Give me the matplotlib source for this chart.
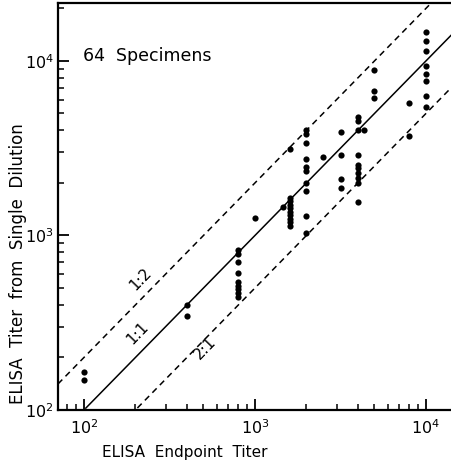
import numpy as np
import matplotlib.pyplot as plt

# endpoint titer (x) and titer from single dilution (y), one entry per specimen
endpoint_titer = (
    [100] * 2
    + [400] * 2
    + [800] * 9
    + [1000]
    + [1450]
    + [1600] * 10
    + [2000] * 10
    + [2500]
    + [3200] * 4
    + [4000] * 10
    + [4335]
    + [5000] * 3
    + [8000] * 2
    + [10000] * 8
)
single_dilution_titer = [
    166, 148,
    401, 347,
    826, 783, 702, 607, 541, 516, 492, 468, 446,
    1255,
    1456,
    3131, 1640, 1566, 1495, 1428, 1363, 1302, 1243, 1187, 1134,
    4010, 3816, 3376, 2743, 2460, 2352, 2007, 1799, 1293, 1030,
    2806,
    3935, 2893, 2099, 1865,
    4795, 4500, 4025, 2893, 2535, 2427, 2273, 2127, 1991, 1563,
    4010,
    8880, 6690, 6140,
    5750, 3730,
    14720, 13070, 11410, 9400, 8425, 7680, 6330, 5450,
]

# reference lines: ratio of single dilution titer to endpoint titer
line_labels = ['1:2', '1:1', '2:1']
line_ratios = [2.0, 1.0, 0.5]

fig = plt.figure(figsize=(4.51, 4.61), dpi=100)
ax = fig.add_axes([58 / 451, 51 / 461, 395 / 451, 407 / 461])

ax.set_xscale('log')
ax.set_yscale('log')
ax.set_xlim(70.5, 14390)
ax.set_ylim(100, 21470)

xx = np.logspace(np.log10(70.5), np.log10(14390), 200)
for ratio in line_ratios:
    yy = xx * ratio
    if ratio == 1.0:
        keep = xx >= 100
        ax.plot(xx[keep], yy[keep], color='black', lw=1.1)
    else:
        keep = yy >= 100
        ax.plot(xx[keep], yy[keep], color='black', lw=1.1,
                linestyle=(0, (4, 3)))

ax.scatter(endpoint_titer, single_dilution_titer, s=20, color='black',
           zorder=3, linewidths=0)

# line labels sit just above-left of each line
label_pos = [(215, 560), (205, 275), (510, 225)]
for text, (lx, ly) in zip(line_labels, label_pos):
    ax.text(lx, ly, text, rotation=46, ha='center', va='center',
            fontsize=11)

ax.text(0.064, 0.87, '64  Specimens', transform=ax.transAxes,
        fontsize=12.5, ha='left', va='center')

ax.set_xlabel('ELISA  Endpoint  Titer', fontsize=11)
ax.set_ylabel('ELISA  Titer  from  Single  Dilution', fontsize=12)
ax.xaxis.set_label_coords(0.32, -0.086)
ax.yaxis.set_label_coords(-0.078, 0.36)

for side in ['left', 'bottom', 'top', 'right']:
    ax.spines[side].set_linewidth(1.6)

ax.tick_params(which='both', direction='in', top=False, right=False,
               labelsize=11.5)
ax.tick_params(which='major', length=8, width=1.3)
ax.tick_params(which='minor', length=4.5, width=1.1)
ax.tick_params(axis='x', which='major', pad=6)
ax.tick_params(axis='y', which='major', pad=3)

plt.savefig('out.png', dpi=100)
